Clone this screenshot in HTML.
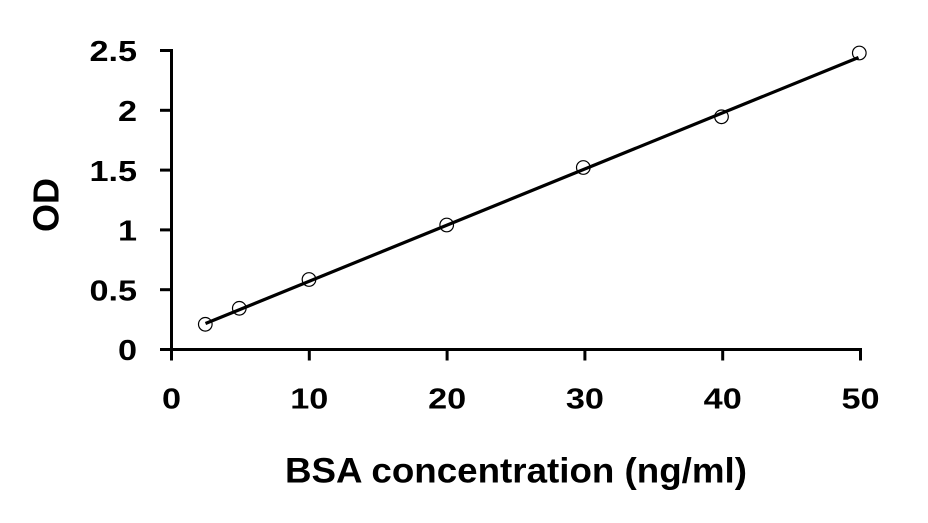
<!DOCTYPE html>
<html>
<head>
<meta charset="utf-8">
<style>
html,body{margin:0;padding:0;background:#fff;}
svg{display:block;}
text{font-family:"Liberation Sans",sans-serif;font-weight:bold;fill:#000;}
</style>
</head>
<body>
<svg width="928" height="523" viewBox="0 0 928 523" xmlns="http://www.w3.org/2000/svg">
<rect width="928" height="523" fill="#fff"/>
<!-- axes -->
<g stroke="#000" stroke-width="3" fill="none" stroke-linecap="butt">
  <line x1="171.5" y1="49" x2="171.5" y2="351"/>
  <line x1="170" y1="349.5" x2="862" y2="349.5"/>
  <!-- y ticks -->
  <line x1="160" y1="50.5" x2="172" y2="50.5"/>
  <line x1="160" y1="110.3" x2="172" y2="110.3"/>
  <line x1="160" y1="170.1" x2="172" y2="170.1"/>
  <line x1="160" y1="229.9" x2="172" y2="229.9"/>
  <line x1="160" y1="289.7" x2="172" y2="289.7"/>
  <line x1="160" y1="349.5" x2="172" y2="349.5"/>
  <!-- x ticks -->
  <line x1="171.5" y1="349" x2="171.5" y2="360.5"/>
  <line x1="309.3" y1="349" x2="309.3" y2="360.5"/>
  <line x1="447.1" y1="349" x2="447.1" y2="360.5"/>
  <line x1="584.9" y1="349" x2="584.9" y2="360.5"/>
  <line x1="722.7" y1="349" x2="722.7" y2="360.5"/>
  <line x1="860.5" y1="349" x2="860.5" y2="360.5"/>
</g>
<!-- y labels -->
<g font-size="29" text-anchor="end">
  <text transform="translate(137,61) scale(1.18,1)">2.5</text>
  <text transform="translate(137,121) scale(1.18,1)">2</text>
  <text transform="translate(137,181) scale(1.18,1)">1.5</text>
  <text transform="translate(137,240.5) scale(1.18,1)">1</text>
  <text transform="translate(137,300.5) scale(1.18,1)">0.5</text>
  <text transform="translate(137,360) scale(1.18,1)">0</text>
</g>
<!-- x labels -->
<g font-size="29" text-anchor="middle">
  <text transform="translate(171.5,408.5) scale(1.18,1)">0</text>
  <text transform="translate(309.3,408.5) scale(1.18,1)">10</text>
  <text transform="translate(447.1,408.5) scale(1.18,1)">20</text>
  <text transform="translate(584.9,408.5) scale(1.18,1)">30</text>
  <text transform="translate(722.7,408.5) scale(1.18,1)">40</text>
  <text transform="translate(860.5,408.5) scale(1.18,1)">50</text>
</g>
<!-- axis titles -->
<text x="516" y="482.5" font-size="35" text-anchor="middle" textLength="462" lengthAdjust="spacingAndGlyphs">BSA concentration (ng/ml)</text>
<text transform="translate(58.5,205) rotate(-90)" font-size="36" text-anchor="middle">OD</text>
<!-- fit line -->
<line x1="205.5" y1="323.5" x2="858.5" y2="57.5" stroke="#000" stroke-width="3.2"/>
<!-- points -->
<g fill="none" stroke="#000" stroke-width="1.2">
  <circle cx="205.3" cy="324.3" r="6.8"/>
  <circle cx="239.3" cy="308.3" r="6.8"/>
  <circle cx="309" cy="279.5" r="6.8"/>
  <circle cx="446.7" cy="225" r="6.8"/>
  <circle cx="583.3" cy="167.5" r="6.8"/>
  <circle cx="721.5" cy="116.8" r="6.8"/>
  <circle cx="859.3" cy="53" r="6.8"/>
</g>
</svg>
</body>
</html>
